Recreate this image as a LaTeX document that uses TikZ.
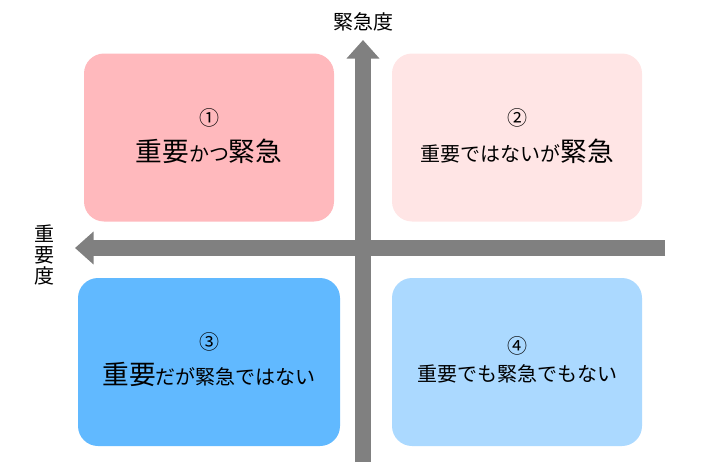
\documentclass[tikz,border=0pt]{standalone}
\usepackage{fontspec}
\setmainfont{Noto Sans CJK JP}
\usetikzlibrary{arrows.meta}
\definecolor{ax}{HTML}{808080}
\definecolor{c1}{HTML}{FFB9BD}
\definecolor{c2}{HTML}{FFE5E5}
\definecolor{c3}{HTML}{61B9FF}
\definecolor{c4}{HTML}{ABD9FF}
\begin{document}
\begin{tikzpicture}[x=0.75pt,y=-0.75pt,
  box/.style={draw=none,rounded corners=15pt,minimum height=126pt,inner sep=0pt},
  lab/.style={align=center,font=\fontsize{15}{18}\selectfont},
  big/.style={font=\fontsize{20}{24}\selectfont},
  axis/.style={ax,line width=12pt,-{Triangle[length=14pt,width=24pt]}}]
\useasboundingbox (0,0) rectangle (726,471);
\node[box,fill=c1,minimum width=187.5pt] (b1) at (209,137.5) {};
\node[box,fill=c2,minimum width=187.5pt] (b2) at (517,137.5) {};
\node[box,fill=c3,minimum width=196.5pt] (b3) at (209,362) {};
\node[box,fill=c4,minimum width=187.5pt] (b4) at (517,362) {};
\coordinate (vs) at (363,462); \coordinate (ve) at (363,40);
\coordinate (hs) at (665,248); \coordinate (he) at (75,248);
\draw[axis] (vs) -- (ve);
\draw[axis] (hs) -- (he);
\node[lab] (t) at (363,22) {緊急度};
\node[lab,align=center,inner sep=0pt] (l) at (45,255) {重\\[-2pt]要\\[-2pt]度};
\node[lab] (n1) at (209,118) {①};
\node[lab] (s1) at (209,151) {{\fontsize{20}{24}\selectfont 重要}かつ{\fontsize{20}{24}\selectfont 緊急}};
\node[lab] (n2) at (517,118) {②};
\node[lab] (s2) at (517,151) {重要ではないが{\fontsize{20}{24}\selectfont 緊急}};
\node[lab] (n3) at (209,342) {③};
\node[lab] (s3) at (209,374) {{\fontsize{20}{24}\selectfont 重要}だが緊急ではない};
\node[lab] (n4) at (517,346) {④};
\node[lab] (s4) at (517,374) {重要でも緊急でもない};
\end{tikzpicture}
\end{document}
